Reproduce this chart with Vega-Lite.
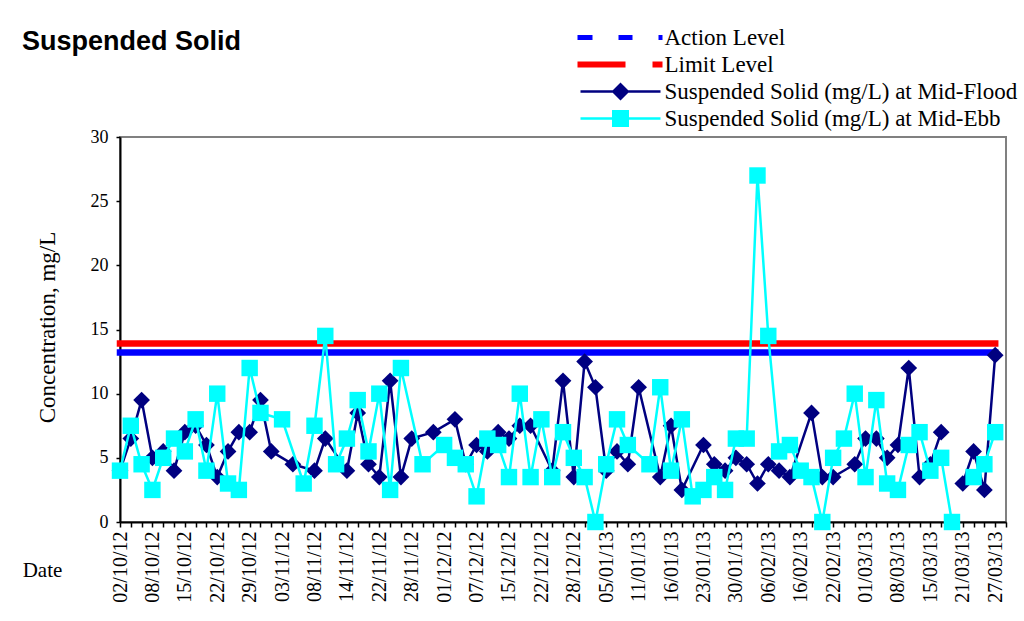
{
  "$schema": "https://vega.github.io/schema/vega-lite/v6.json",
  "autosize": {"type": "none"},
  "padding": {"left": 120, "top": 137, "right": 18, "bottom": 99},
  "width": 886,
  "height": 385,
  "background": "white",
  "config": {
    "view": {"stroke": "#808080", "strokeWidth": 2},
    "axis": {"grid": false, "domainColor": "black", "domainWidth": 2, "tickColor": "black", "tickWidth": 1.5, "tickSize": 5, "labelColor": "black", "labelFont": "Liberation Serif", "titleFont": "Liberation Serif", "titleColor": "black", "titleFontWeight": "normal"},
    "legend": {"labelFont": "Liberation Serif", "labelColor": "black"}
  },
  "title": {"text": "Suspended Solid", "font": "Liberation Sans", "fontSize": 27, "fontWeight": "bold", "color": "black", "anchor": "start", "frame": "group", "dx": -98, "dy": 30, "offset": 0},
  "datasets": {
    "levels": [
      {"s": "Action Level", "v": 13.2, "from": "02/10/12", "to": "27/03/13"},
      {"s": "Limit Level", "v": 13.9, "from": "02/10/12", "to": "27/03/13"}
    ],
    "flood": [
      {"d": "02/10/12", "v": 4}, {"d": "04/10/12", "v": 6.5}, {"d": "06/10/12", "v": 9.5}, {"d": "08/10/12", "v": 5},
      {"d": "10/10/12", "v": 5.5}, {"d": "12/10/12", "v": 4}, {"d": "15/10/12", "v": 7}, {"d": "17/10/12", "v": 7.5},
      {"d": "19/10/12", "v": 6}, {"d": "22/10/12", "v": 3.5}, {"d": "24/10/12", "v": 5.5}, {"d": "26/10/12", "v": 7},
      {"d": "29/10/12", "v": 7}, {"d": "31/10/12", "v": 9.5}, {"d": "01/11/12", "v": 5.5}, {"d": "05/11/12", "v": 4.5},
      {"d": "08/11/12", "v": 4}, {"d": "10/11/12", "v": 6.5}, {"d": "14/11/12", "v": 4}, {"d": "16/11/12", "v": 8.5},
      {"d": "19/11/12", "v": 4.5}, {"d": "22/11/12", "v": 3.5}, {"d": "24/11/12", "v": 11}, {"d": "26/11/12", "v": 3.5},
      {"d": "28/11/12", "v": 6.5}, {"d": "30/11/12", "v": 7}, {"d": "03/12/12", "v": 8}, {"d": "05/12/12", "v": 4.5},
      {"d": "07/12/12", "v": 6}, {"d": "10/12/12", "v": 5.5}, {"d": "12/12/12", "v": 7}, {"d": "15/12/12", "v": 6.5},
      {"d": "17/12/12", "v": 7.5}, {"d": "19/12/12", "v": 7.5}, {"d": "24/12/12", "v": 4}, {"d": "27/12/12", "v": 11},
      {"d": "28/12/12", "v": 3.5}, {"d": "31/12/12", "v": 12.5}, {"d": "03/01/13", "v": 10.5}, {"d": "05/01/13", "v": 4},
      {"d": "07/01/13", "v": 5.5}, {"d": "09/01/13", "v": 4.5}, {"d": "11/01/13", "v": 10.5}, {"d": "14/01/13", "v": 3.5},
      {"d": "16/01/13", "v": 7.5}, {"d": "18/01/13", "v": 2.5}, {"d": "23/01/13", "v": 6}, {"d": "25/01/13", "v": 4.5},
      {"d": "28/01/13", "v": 4}, {"d": "30/01/13", "v": 5}, {"d": "01/02/13", "v": 4.5}, {"d": "04/02/13", "v": 3},
      {"d": "06/02/13", "v": 4.5}, {"d": "08/02/13", "v": 4}, {"d": "13/02/13", "v": 3.5}, {"d": "18/02/13", "v": 8.5},
      {"d": "20/02/13", "v": 3.5}, {"d": "22/02/13", "v": 3.5}, {"d": "27/02/13", "v": 4.5}, {"d": "01/03/13", "v": 6.5},
      {"d": "04/03/13", "v": 6.5}, {"d": "06/03/13", "v": 5}, {"d": "08/03/13", "v": 6}, {"d": "11/03/13", "v": 12},
      {"d": "13/03/13", "v": 3.5}, {"d": "15/03/13", "v": 4.5}, {"d": "18/03/13", "v": 7}, {"d": "20/03/13", "v": null},
      {"d": "21/03/13", "v": 3}, {"d": "23/03/13", "v": 5.5}, {"d": "25/03/13", "v": 2.5}, {"d": "27/03/13", "v": 13}
    ],
    "ebb": [
      {"d": "02/10/12", "v": 4}, {"d": "04/10/12", "v": 7.5}, {"d": "06/10/12", "v": 4.5}, {"d": "08/10/12", "v": 2.5},
      {"d": "10/10/12", "v": 5}, {"d": "12/10/12", "v": 6.5}, {"d": "15/10/12", "v": 5.5}, {"d": "17/10/12", "v": 8},
      {"d": "19/10/12", "v": 4}, {"d": "22/10/12", "v": 10}, {"d": "24/10/12", "v": 3}, {"d": "26/10/12", "v": 2.5},
      {"d": "29/10/12", "v": 12}, {"d": "31/10/12", "v": 8.5}, {"d": "03/11/12", "v": 8}, {"d": "06/11/12", "v": 3},
      {"d": "08/11/12", "v": 7.5}, {"d": "10/11/12", "v": 14.5}, {"d": "12/11/12", "v": 4.5}, {"d": "14/11/12", "v": 6.5},
      {"d": "16/11/12", "v": 9.5}, {"d": "19/11/12", "v": 5.5}, {"d": "22/11/12", "v": 10}, {"d": "24/11/12", "v": 2.5},
      {"d": "26/11/12", "v": 12}, {"d": "29/11/12", "v": 4.5}, {"d": "01/12/12", "v": 6}, {"d": "03/12/12", "v": 5},
      {"d": "05/12/12", "v": 4.5}, {"d": "07/12/12", "v": 2}, {"d": "10/12/12", "v": 6.5}, {"d": "12/12/12", "v": 6},
      {"d": "15/12/12", "v": 3.5}, {"d": "17/12/12", "v": 10}, {"d": "19/12/12", "v": 3.5}, {"d": "22/12/12", "v": 8},
      {"d": "24/12/12", "v": 3.5}, {"d": "27/12/12", "v": 7}, {"d": "28/12/12", "v": 5}, {"d": "31/12/12", "v": 3.5},
      {"d": "03/01/13", "v": 0}, {"d": "05/01/13", "v": 4.5}, {"d": "07/01/13", "v": 8}, {"d": "09/01/13", "v": 6},
      {"d": "12/01/13", "v": 4.5}, {"d": "14/01/13", "v": 10.5}, {"d": "16/01/13", "v": 4}, {"d": "18/01/13", "v": 8},
      {"d": "21/01/13", "v": 2}, {"d": "23/01/13", "v": 2.5}, {"d": "25/01/13", "v": 3.5}, {"d": "28/01/13", "v": 2.5},
      {"d": "30/01/13", "v": 6.5}, {"d": "01/02/13", "v": 6.5}, {"d": "04/02/13", "v": 27}, {"d": "06/02/13", "v": 14.5},
      {"d": "08/02/13", "v": 5.5}, {"d": "13/02/13", "v": 6}, {"d": "16/02/13", "v": 4}, {"d": "18/02/13", "v": 3.5},
      {"d": "20/02/13", "v": 0}, {"d": "22/02/13", "v": 5}, {"d": "25/02/13", "v": 6.5}, {"d": "27/02/13", "v": 10},
      {"d": "01/03/13", "v": 3.5}, {"d": "04/03/13", "v": 9.5}, {"d": "06/03/13", "v": 3}, {"d": "08/03/13", "v": 2.5},
      {"d": "11/03/13", "v": 6}, {"d": "13/03/13", "v": 7}, {"d": "15/03/13", "v": 4}, {"d": "18/03/13", "v": 5},
      {"d": "20/03/13", "v": 0}, {"d": "21/03/13", "v": null}, {"d": "23/03/13", "v": 3.5}, {"d": "25/03/13", "v": 4.5},
      {"d": "27/03/13", "v": 7}
    ]
  },
  "encoding": {
    "x": {
      "field": "d",
      "type": "ordinal",
      "scale": {"type": "point", "padding": 0, "domain": ["02/10/12","04/10/12","06/10/12","08/10/12","10/10/12","12/10/12","15/10/12","17/10/12","19/10/12","22/10/12","24/10/12","26/10/12","29/10/12","31/10/12","01/11/12","03/11/12","05/11/12","06/11/12","08/11/12","10/11/12","12/11/12","14/11/12","16/11/12","19/11/12","22/11/12","24/11/12","26/11/12","28/11/12","29/11/12","30/11/12","01/12/12","03/12/12","05/12/12","07/12/12","10/12/12","12/12/12","15/12/12","17/12/12","19/12/12","22/12/12","24/12/12","27/12/12","28/12/12","31/12/12","03/01/13","05/01/13","07/01/13","09/01/13","11/01/13","12/01/13","14/01/13","16/01/13","18/01/13","21/01/13","23/01/13","25/01/13","28/01/13","30/01/13","01/02/13","04/02/13","06/02/13","08/02/13","13/02/13","16/02/13","18/02/13","20/02/13","22/02/13","25/02/13","27/02/13","01/03/13","04/03/13","06/03/13","08/03/13","11/03/13","13/03/13","15/03/13","18/03/13","20/03/13","21/03/13","23/03/13","25/03/13","27/03/13","29/03/13"]},
      "axis": {
        "title": "Date",
        "titleFontSize": 21,
        "titleAngle": 0,
        "titleAlign": "center",
        "titleBaseline": "middle",
        "titleX": -78,
        "titleY": 48,
        "labelAngle": 270,
        "labelFontSize": 20,
        "labelPadding": 4,
        "labelOverlap": false,
        "labelBound": false,
        "labelExpr": "indexof(['02/10/12','08/10/12','15/10/12','22/10/12','29/10/12','03/11/12','08/11/12','14/11/12','22/11/12','28/11/12','01/12/12','07/12/12','15/12/12','22/12/12','28/12/12','05/01/13','11/01/13','16/01/13','23/01/13','30/01/13','06/02/13','16/02/13','22/02/13','01/03/13','08/03/13','15/03/13','21/03/13','27/03/13'], datum.value) >= 0 ? datum.value : ''"
      }
    },
    "y": {
      "field": "v",
      "type": "quantitative",
      "scale": {"domain": [0, 30], "nice": false},
      "axis": {
        "title": "Concentration, mg/L",
        "titleFontSize": 23,
        "titleX": -73,
        "titleY": 190,
        "titleAlign": "center",
        "titleBaseline": "middle",
        "values": [0, 5, 10, 15, 20, 25, 30],
        "labelFontSize": 18,
        "labelPadding": 8,
        "tickSize": 4
      }
    }
  },
  "layer": [
    {
      "data": {"name": "levels"},
      "mark": {"type": "rule", "strokeWidth": 6.5, "strokeCap": "square"},
      "encoding": {
        "x": {"field": "from", "type": "ordinal"},
        "x2": {"field": "to"},
        "stroke": {"field": "s", "type": "nominal", "scale": {"domain": ["Action Level", "Limit Level"], "range": ["#0000FF", "#FF0000"]}, "legend": null}
      }
    },
    {
      "data": {"name": "flood"},
      "mark": {"type": "line", "color": "#000080", "strokeWidth": 2.5, "invalid": "break-paths-show-domains"},
      "encoding": {}
    },
    {
      "data": {"name": "flood"},
      "transform": [{"filter": "isValid(datum.v)"}],
      "mark": {"type": "point", "shape": "diamond", "filled": true, "size": 280, "opacity": 1},
      "encoding": {
        "color": {"datum": "Suspended Solid (mg/L) at Mid-Flood", "type": "nominal", "scale": {"domain": ["Action Level", "Limit Level", "Suspended Solid (mg/L) at Mid-Flood", "Suspended Solid (mg/L) at Mid-Ebb"], "range": ["#0000FF", "#FF0000", "#000080", "#00FFFF"]},
          "legend": {
            "title": null, "orient": "none", "legendX": 488.5, "legendY": -111, "padding": 0,
            "labelFontSize": 23, "labelOffset": 33, "labelLimit": 0, "rowPadding": 3, "symbolSize": 100, "symbolStrokeWidth": 0, "symbolOpacity": 1,
            "encode": {"symbols": {"update": {
              "size": {"value": 100},
              "strokeWidth": {"value": 0},
              "opacity": {"value": 1},
              "shape": {"signal": "datum.value === 'Action Level' ? 'M-8.5,-0.5H-5.5V0.5H-8.5Z M-0.3,-0.5H2.5V0.5H-0.3Z M7.7,-0.5H8.5V0.5H7.7Z' : datum.value === 'Limit Level' ? 'M-8.5,-0.6H1.1V0.6H-8.5Z M6.5,-0.6H8.5V0.6H6.5Z' : datum.value === 'Suspended Solid (mg/L) at Mid-Flood' ? 'M-7.9,-0.25H8.1V0.25H-7.9Z M0.1,-1.8L1.9,0L0.1,1.8L-1.7,0Z' : 'M-7.9,-0.25H8.1V0.25H-7.9Z M-1.6,-1.7H1.8V1.7H-1.6Z'"}
            }}}
          }
        }
      }
    },
    {
      "data": {"name": "ebb"},
      "mark": {"type": "line", "color": "#00FFFF", "strokeWidth": 2.5, "invalid": "break-paths-show-domains"},
      "encoding": {}
    },
    {
      "data": {"name": "ebb"},
      "transform": [{"filter": "isValid(datum.v)"}],
      "mark": {"type": "point", "shape": "square", "filled": true, "size": 270, "opacity": 1},
      "encoding": {
        "color": {"datum": "Suspended Solid (mg/L) at Mid-Ebb", "type": "nominal"}
      }
    }
  ]
}
